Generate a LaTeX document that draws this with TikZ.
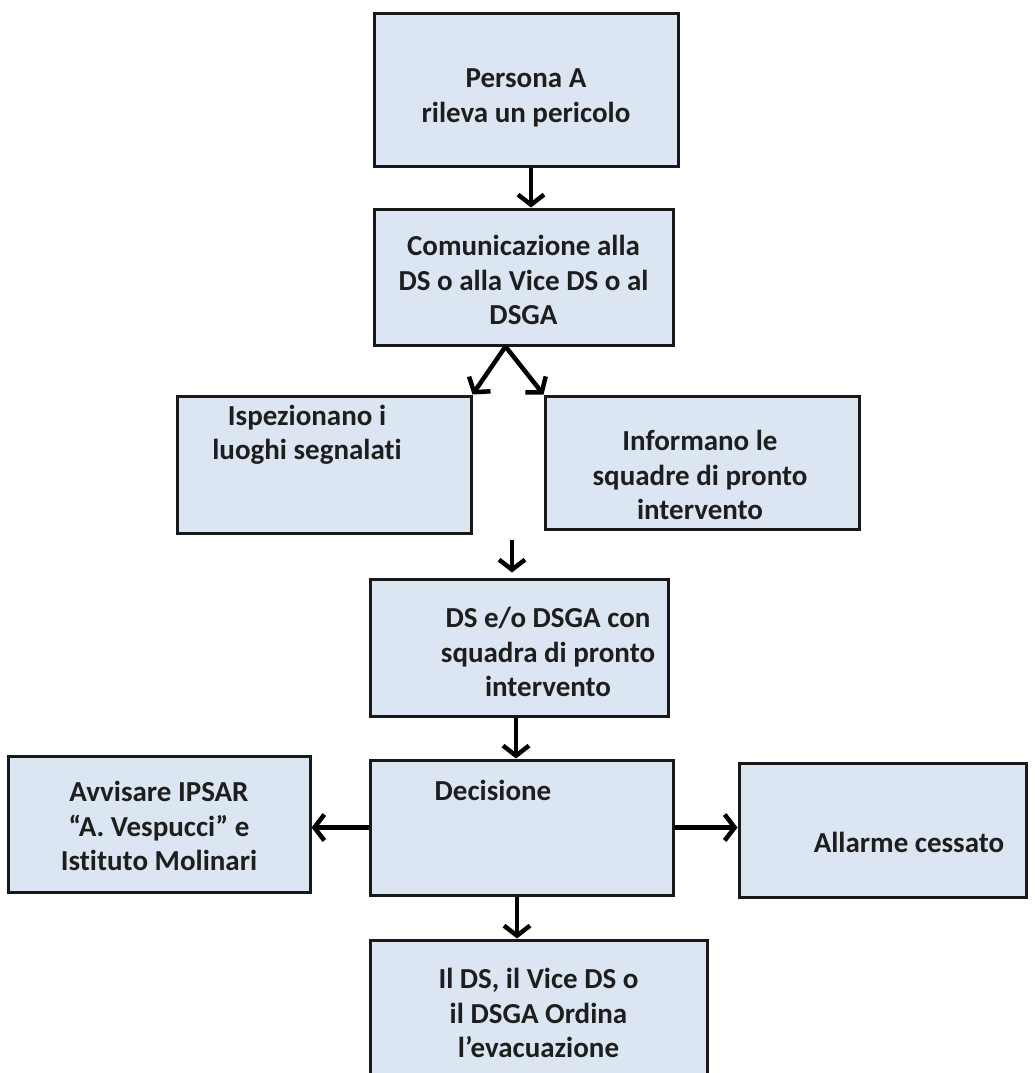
\documentclass[tikz,border=0pt]{standalone}
\usepackage{fontspec}
\setmainfont{Carlito}[Ligatures=NoCommon]
\usetikzlibrary{arrows.meta}
\definecolor{box-fill}{RGB}{220,230,242}
\definecolor{box-line}{RGB}{25,25,25}
\definecolor{box-text}{RGB}{30,30,30}

\begin{document}
\begin{tikzpicture}[x=1pt,y=-1pt,
    box/.style={draw=box-line,fill=box-fill,line width=3pt,inner sep=0pt},
    boxtext/.style={align=center,text=box-text,font=\fontsize{29}{34.5}\selectfont\bfseries},
    arr/.style={line width=4.5pt,-{Straight Barb[length=10pt,width=26pt]}}]
    \useasboundingbox (0,0) rectangle (1034,1073);
    % the boxes, placed in pixel coordinates
    \node[box,minimum width=304pt,minimum height=152pt,
        label={[boxtext,yshift=-8pt]center:{Persona A\\rileva un pericolo}}] (pers) at (526,90) {};
    \node[box,minimum width=299pt,minimum height=136pt,
        label={[boxtext,yshift=-3pt]center:{Comunicazione alla\\DS o alla Vice DS o al\\DSGA}}] (com) at (523.5,277) {};
    \node[box,minimum width=294pt,minimum height=137pt,
        label={[boxtext,xshift=-17pt,yshift=29.5pt]center:{Ispezionano i\\luoghi segnalati}}] (isp) at (324,464.5) {};
    \node[box,minimum width=314pt,minimum height=133pt,
        label={[boxtext,xshift=-2pt,yshift=-12.5pt]center:{Informano le\\squadre di pronto\\intervento}}] (inf) at (702,462.5) {};
    \node[box,minimum width=298pt,minimum height=137pt,
        label={[boxtext,xshift=29pt,yshift=-4.5pt]center:{DS e/o DSGA con\\squadra di pronto\\intervento}}] (ds) at (519,647.5) {};
    \node[box,minimum width=303pt,minimum height=135pt,
        label={[boxtext,xshift=-28.5pt,yshift=37.5pt]center:{Decisione}}] (dec) at (521.5,827.5) {};
    \node[box,minimum width=302pt,minimum height=136pt,
        label={[boxtext,yshift=-2pt]center:{Avvisare IPSAR\\“A. Vespucci” e\\Istituto Molinari}}] (avv) at (159,824) {};
    \node[box,minimum width=287pt,minimum height=134pt,
        label={[boxtext,xshift=26.5pt,yshift=-12pt]center:{Allarme cessato}}] (all) at (882.5,830) {};
    \node[box,minimum width=337pt,minimum height=170pt,
        label={[boxtext,yshift=12pt]center:{Il DS, il Vice DS o\\il DSGA Ordina\\l’evacuazione}}] (ev) at (538.5,1025) {};
    % arrows
    \draw[arr] ([xshift=5pt]pers.south) -- ([xshift=5pt]pers.south |- com.north);
    \draw[arr] ([xshift=-18pt]com.south) -- (isp.north east);
    \draw[arr] ([xshift=-18pt]com.south) -- (inf.north west);
    \coordinate (gap) at (512,540);
    \draw[arr,shorten >=5pt] (gap) -- (gap |- ds.north);
    \draw[arr] ([xshift=-3pt]ds.south) -- ([xshift=-3pt]ds.south |- dec.north);
    \draw[arr] (dec.west) -- (dec.west -| avv.east);
    \draw[arr] (dec.east) -- (dec.east -| all.west);
    \draw[arr] ([xshift=-4.5pt]dec.south) -- ([xshift=-4.5pt]dec.south |- ev.north);
\end{tikzpicture}
\end{document}
